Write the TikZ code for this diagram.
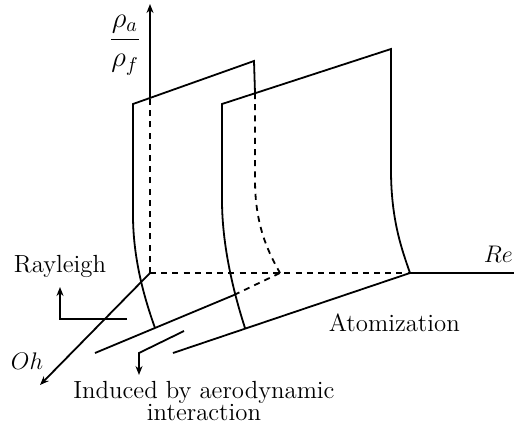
\documentclass[tikz,border=0pt]{standalone}
\usetikzlibrary{arrows.meta}
\begin{document}
\begin{tikzpicture}[x=0.5pt,y=-0.5pt,line width=0.9pt,
  hidden/.style={dashed,dash pattern=on 3pt off 2.6pt},
  tip/.style={-{Stealth[length=4.5pt,width=3.5pt]}},
  lbl/.style={font=\fontsize{12.4}{11}\selectfont,inner sep=0pt}]
\useasboundingbox (0,0) rectangle (514,429);
% axes
\coordinate (O) at (150,273);
\coordinate (Ytop) at (150,4);
\coordinate (Yhit) at (150,98);
\coordinate (Rein) at (410,273);
\coordinate (Reend) at (514,273);
\coordinate (Ohtip) at (40,385);
\draw[tip] (Yhit) -- (Ytop);
\draw[hidden] (O) -- (Yhit);
\draw[hidden] (O) -- (Rein);
\draw (Rein) -- (Reend);
\draw[tip] (O) -- (Ohtip);
% sheet 1
\coordinate (A1) at (133,104);
\coordinate (A2) at (254,61);
\coordinate (A3) at (255,93);
\coordinate (A4) at (280,273);
\coordinate (A5) at (155,328);
\coordinate (B0) at (95,353);
\coordinate (B1) at (234,295);
\draw (A5) .. controls (145,300) and (133,260) .. (133,215) -- (A1) -- (A2) -- (A3);
\draw[hidden] (A3) -- (255,180) .. controls (255,228) and (270,255) .. (A4);
\draw (B0) -- (B1);
\draw[hidden] (B1) -- (A4);
% sheet 2
\coordinate (C1) at (222,104);
\coordinate (C2) at (391,49);
\coordinate (C3) at (245,328);
\coordinate (D0) at (173,353);
\draw (C3) .. controls (236,300) and (222,250) .. (222,200) -- (C1) -- (C2)
  -- (391,170) .. controls (391,220) and (402,250) .. (Rein);
\draw (D0) -- (Rein);
% label arrows
\coordinate (R1) at (127,319);
\coordinate (R2) at (60,319);
\coordinate (R3) at (60,287);
\draw[tip] (R1) -- (R2) -- (R3);
\coordinate (I1) at (184,331);
\coordinate (I2) at (139,353);
\coordinate (I3) at (139,375);
\draw[tip] (I1) -- (I2) -- (I3);
% labels
\node[inner sep=0pt,font=\fontsize{14.5}{17}\selectfont] (rho) at (125,45) {$\displaystyle\frac{\rho_a}{\rho_f}$};
\node[lbl,anchor=base west] (re) at (483,262) {$Re$};
\node[lbl,anchor=base west] (oh) at (10,369) {$Oh$};
\node[lbl,anchor=base west] (ray) at (13,272) {Rayleigh};
\node[lbl,anchor=base west] (atom) at (328,331) {Atomization};
\node[lbl,anchor=base] (ind1) at (204,398) {Induced by aerodynamic};
\node[lbl,anchor=base] (ind2) at (204,420) {interaction};
\end{tikzpicture}
\end{document}
